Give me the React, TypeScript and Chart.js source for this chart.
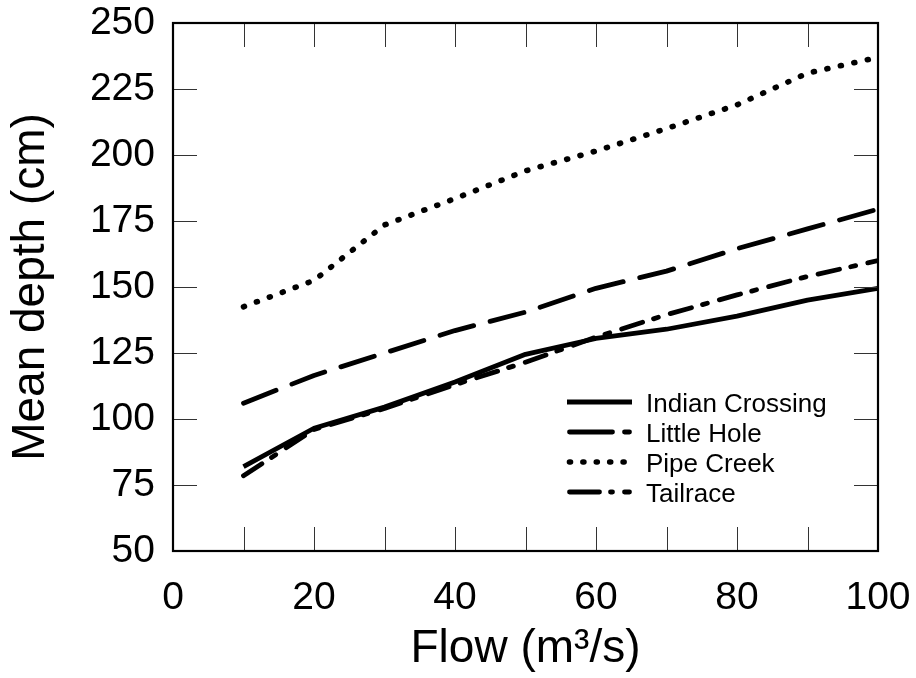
import { useEffect, useRef } from "react";
import { Chart, registerables } from "chart.js";

Chart.register(...registerables);

const flows = [10, 20, 30, 40, 50, 60, 70, 80, 90, 100];
const indianCrossing = [82, 96.5, 104.5, 114, 124.5, 130.5, 134, 139, 145, 149.5];
const littleHole = [106, 116.5, 125, 133.5, 140.5, 149.5, 156, 164.5, 172, 179.5];
const pipeCreek = [142.5, 152.5, 173.5, 183.5, 194, 201.5, 210, 219, 231, 237];
const tailrace = [78.5, 96, 104, 113, 121.5, 131, 139.5, 147, 154, 160];
const seriesNames = ["Indian Crossing", "Little Hole", "Pipe Creek", "Tailrace"];
const xTickLabels = [0, 20, 40, 60, 80, 100];
const yTickLabels = [50, 75, 100, 125, 150, 175, 200, 225, 250];

const FONT = "'Liberation Sans', Arial, sans-serif";
const lineWidths = [4.8, 4.8, 5.6, 4.8];
const lineDashes: number[][] = [[], [35, 17], [1, 12.8], [22, 11.5, 5, 12.5]];
const legendDashes: number[][] = [[], [43, 12], [1, 12.4], [30, 11, 2, 12]];

const frameTicksPlugin = {
  id: "frameTicks",
  afterDraw(chart: any) {
    const { ctx, chartArea } = chart;
    const { left, right, top, bottom } = chartArea;
    const xs = chart.scales.x;
    const ys = chart.scales.y;
    const len = 24;
    ctx.save();
    ctx.strokeStyle = "#333";
    ctx.lineWidth = 1;
    ctx.setLineDash([]);
    ctx.beginPath();
    xs.ticks.forEach((t: any) => {
      if (t.value <= xs.min || t.value >= xs.max) return;
      const x = Math.round(xs.getPixelForValue(t.value)) + 0.5;
      ctx.moveTo(x, bottom);
      ctx.lineTo(x, bottom - len);
      ctx.moveTo(x, top);
      ctx.lineTo(x, top + len);
    });
    ys.ticks.forEach((t: any) => {
      if (t.value <= ys.min || t.value >= ys.max) return;
      const y = Math.round(ys.getPixelForValue(t.value)) + 0.5;
      ctx.moveTo(left, y);
      ctx.lineTo(left + len, y);
      ctx.moveTo(right, y);
      ctx.lineTo(right - len, y);
    });
    ctx.stroke();
    ctx.strokeStyle = "#000";
    ctx.lineWidth = 2.2;
    ctx.strokeRect(left, top, right - left, bottom - top);
    ctx.restore();
  },
};

const legendPlugin = {
  id: "customLegend",
  afterDraw(chart: any) {
    const { ctx, chartArea } = chart;
    const x0 = chartArea.right - 311;
    const y0 = chartArea.bottom - 149;
    const rowGap = 30;
    ctx.save();
    chart.data.datasets.forEach((ds: any, i: number) => {
      const y = y0 + i * rowGap;
      ctx.beginPath();
      ctx.strokeStyle = "#000";
      ctx.lineWidth = lineWidths[i];
      ctx.lineCap = i === 0 ? "butt" : "round";
      ctx.setLineDash(legendDashes[i]);
      const sx = i === 0 ? x0 : x0 + 2.5;
      const ex = i === 0 ? x0 + 65 : x0 + 62.5;
      ctx.moveTo(sx, y);
      ctx.lineTo(ex, y);
      ctx.stroke();
      ctx.setLineDash([]);
      ctx.fillStyle = "#000";
      ctx.font = `26px ${FONT}`;
      ctx.textAlign = "left";
      ctx.textBaseline = "alphabetic";
      ctx.fillText(ds.label, x0 + 79, y + 9.5);
    });
    ctx.restore();
  },
};

export default function App() {
  const ref = useRef<HTMLCanvasElement>(null);
  useEffect(() => {
    document.body.style.margin = "0";
    const canvas = ref.current!;
    const seriesValues = [indianCrossing, littleHole, pipeCreek, tailrace];
    const zeroPad = (s: any) => {
      s.paddingTop = 0;
      s.paddingBottom = 0;
      s.paddingLeft = 0;
      s.paddingRight = 0;
    };
    const chart = new Chart(canvas, {
      type: "line",
      data: {
        datasets: seriesValues.map((vals, i) => ({
          label: seriesNames[i],
          data: flows.map((f, j) => ({ x: f, y: vals[j] })),
          borderColor: "#000",
          borderWidth: lineWidths[i],
          borderDash: lineDashes[i],
          borderCapStyle: i === 0 ? "butt" : "round",
          borderJoinStyle: "round",
          pointRadius: 0,
          tension: 0,
          fill: false,
        })),
      },
      options: {
        animation: false,
        responsive: false,
        maintainAspectRatio: false,
        layout: { padding: { top: 23, right: 38, left: 0, bottom: 0 } },
        plugins: {
          legend: { display: false },
          tooltip: { enabled: false },
          title: { display: false },
        },
        scales: {
          x: {
            type: "linear",
            min: 0,
            max: 100,
            grid: { display: false, drawTicks: false },
            border: { display: false },
            ticks: {
              stepSize: 10,
              autoSkip: false,
              maxRotation: 0,
              padding: 24,
              color: "#000",
              font: { family: FONT, size: 39 },
              callback: (v: any) => (xTickLabels.includes(Number(v)) ? String(v) : ""),
            },
            title: {
              display: true,
              text: "Flow (m³/s)",
              color: "#000",
              font: { family: FONT, size: 46 },
              padding: { top: 0, bottom: 1 },
            },
            afterFit: (s: any) => {
              s.height = 127;
              zeroPad(s);
            },
          },
          y: {
            type: "linear",
            min: 50,
            max: 250,
            grid: { display: false, drawTicks: false },
            border: { display: false },
            ticks: {
              stepSize: 25,
              autoSkip: false,
              padding: 18,
              color: "#000",
              font: { family: FONT, size: 39 },
              callback: (v: any) => (yTickLabels.includes(Number(v)) ? String(v) : ""),
            },
            title: {
              display: true,
              text: "Mean depth (cm)",
              color: "#000",
              font: { family: FONT, size: 46 },
              padding: { top: 4, bottom: 0 },
            },
            afterFit: (s: any) => {
              s.width = 173;
              zeroPad(s);
            },
          },
        },
      },
      plugins: [frameTicksPlugin, legendPlugin],
    });
    return () => chart.destroy();
  }, []);
  return (
    <div style={{ position: "absolute", left: 0, top: 0, width: 916, height: 678, background: "#fff" }}>
      <canvas ref={ref} width={916} height={678} style={{ display: "block" }} />
    </div>
  );
}
